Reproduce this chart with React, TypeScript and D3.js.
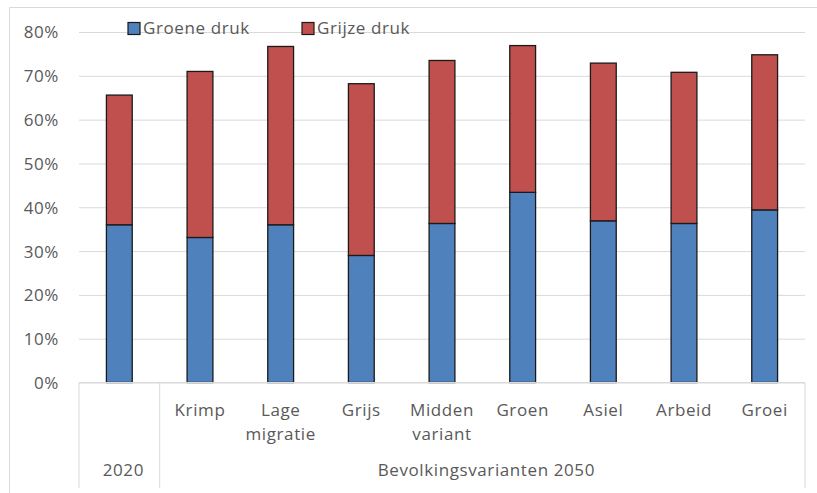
import { useEffect, useRef } from "react";
import * as d3 from "d3";

const categories = ["2020", "Krimp", "Lage migratie", "Grijs", "Midden variant", "Groen", "Asiel", "Arbeid", "Groei"];
// level-1 labels (2020 has none, it only sits in the group row)
const categoryLabels = ["", "Krimp", "Lage migratie", "Grijs", "Midden variant", "Groen", "Asiel", "Arbeid", "Groei"];
const groupNames = ["2020", "Bevolkingsvarianten 2050"];
const groupSizes = [1, 8];

const seriesNames = ["Groene druk", "Grijze druk"];
const groeneDruk = [36.0, 33.1, 36.0, 29.0, 36.3, 43.4, 36.9, 36.3, 39.4];
const grijzeDruk = [29.6, 37.9, 40.7, 39.2, 37.2, 33.5, 36.0, 34.5, 35.4];
const yTicks = [0, 10, 20, 30, 40, 50, 60, 70, 80];

const colors = ["#4F81BD", "#C0504D"];

export default function App() {
  const width = 817;
  const height = 493;
  const marginLeft = 79;
  const marginRight = 12;
  const marginTop = 32;
  const axisY = 382.5;
  const ref = useRef<SVGSVGElement>(null);

  useEffect(() => {
    const svg = d3.select(ref.current);
    svg.selectAll("*").remove();

    const font = "'Open Sans', sans-serif";
    const fontSize = "17px";
    const spacing = "0.6px";
    const textColor = "#595959";
    const gridColor = "#D9D9D9";

    const rows = categories.map((c, i) => ({
      cat: c,
      "Groene druk": groeneDruk[i],
      "Grijze druk": grijzeDruk[i],
    }));
    const stacked = d3.stack<any>().keys(seriesNames)(rows);

    const x = d3
      .scaleBand()
      .domain(categories)
      .range([marginLeft, width - marginRight])
      .padding(0);

    const y = d3.scaleLinear().domain([0, 80]).range([axisY, marginTop]);

    // chart frame (left and top edges visible)
    svg
      .append("path")
      .attr("d", `M9.5,${height} V7.5 H${width}`)
      .attr("fill", "none")
      .attr("stroke", gridColor);

    // gridlines + y labels
    const yAxis = svg
      .append("g")
      .attr("transform", `translate(${width - marginRight}, 0)`)
      .call(
        d3
          .axisLeft(y)
          .tickValues(yTicks)
          .tickSize(width - marginRight - marginLeft)
          .tickFormat((d) => `${d}%`),
      );
    yAxis.select(".domain").remove();
    yAxis.selectAll(".tick line").attr("stroke", gridColor);
    yAxis
      .selectAll(".tick text")
      .attr("x", -(width - marginRight - 59))
      .attr("dy", "0.35em")
      .attr("fill", textColor)
      .style("font-family", font)
      .style("font-size", fontSize)
      .style("letter-spacing", spacing);

    // bars
    const barW = x.bandwidth() * 0.32;
    svg
      .append("g")
      .selectAll("g")
      .data(stacked)
      .join("g")
      .attr("fill", (_, i) => colors[i])
      .selectAll("rect")
      .data((d) => d)
      .join("rect")
      .attr("x", (d: any) => x(d.data.cat)! + x.bandwidth() / 2 - barW / 2)
      .attr("y", (d) => y(d[1]))
      .attr("width", barW)
      .attr("height", (d) => y(d[0]) - y(d[1]))
      .attr("stroke", "#1a1a1a")
      .attr("stroke-width", 1.3);

    // category axis (multi-level)
    const axisG = svg.append("g");
    const bottom = 488;
    axisG
      .append("line")
      .attr("x1", marginLeft)
      .attr("x2", width - marginRight)
      .attr("y1", axisY)
      .attr("y2", axisY)
      .attr("stroke", gridColor);

    let start = 0;
    const bounds = [0];
    groupSizes.forEach((n) => {
      start += n;
      bounds.push(start);
    });
    bounds.forEach((b) => {
      const bx = b < categories.length ? x(categories[b])! : x(categories[categories.length - 1])! + x.bandwidth();
      axisG
        .append("line")
        .attr("x1", bx)
        .attr("x2", bx)
        .attr("y1", axisY)
        .attr("y2", bottom)
        .attr("stroke", gridColor);
    });

    categoryLabels.forEach((lab, i) => {
      if (!lab) return;
      const words = lab.split(" ");
      const cx = x(categories[i])! + x.bandwidth() / 2;
      const t = axisG
        .append("text")
        .attr("x", cx)
        .attr("y", 416)
        .attr("text-anchor", "middle")
        .attr("fill", textColor)
        .style("font-family", font)
        .style("font-size", fontSize)
        .style("letter-spacing", spacing);
      words.forEach((w, j) => {
        t.append("tspan")
          .attr("x", cx)
          .attr("dy", j === 0 ? 0 : 24)
          .text(w);
      });
    });

    groupNames.forEach((g, gi) => {
      const first = categories[bounds[gi]];
      const last = categories[bounds[gi + 1] - 1];
      const cx = (x(first)! + x(last)! + x.bandwidth()) / 2;
      axisG
        .append("text")
        .attr("x", cx + 4)
        .attr("y", 476)
        .attr("text-anchor", "middle")
        .attr("fill", textColor)
        .style("font-family", font)
        .style("font-size", fontSize)
        .style("letter-spacing", spacing)
        .text(g);
    });

    // legend
    const legendX = [128, 302];
    const legend = svg
      .append("g")
      .selectAll("g")
      .data(seriesNames)
      .join("g")
      .attr("transform", (_, i) => `translate(${legendX[i]}, 22.5)`);
    legend
      .append("rect")
      .attr("width", 12)
      .attr("height", 12)
      .attr("fill", (_, i) => colors[i])
      .attr("stroke", "#1a1a1a")
      .attr("stroke-width", 1.2);
    legend
      .append("text")
      .attr("x", 15)
      .attr("y", 6)
      .attr("dy", "0.35em")
      .attr("fill", textColor)
      .style("font-family", font)
      .style("font-size", fontSize)
      .style("letter-spacing", spacing)
      .text((d) => d);
  }, []);

  return (
    <svg
      ref={ref}
      width={width}
      height={height}
      style={{ position: "absolute", left: 0, top: 0, background: "#fff" }}
    />
  );
}
